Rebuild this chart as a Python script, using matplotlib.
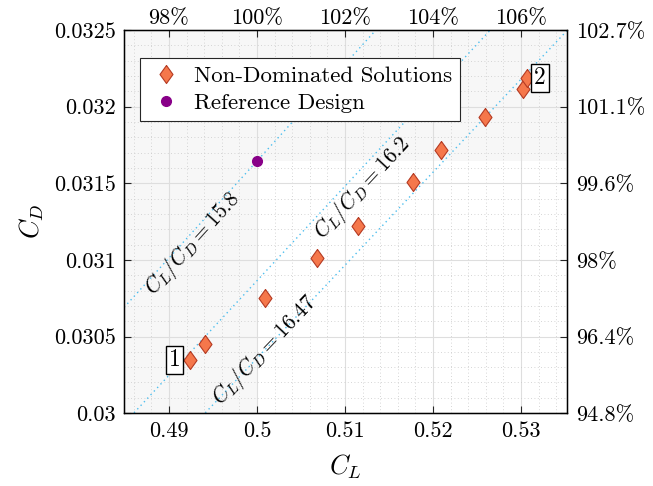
import matplotlib
matplotlib.use("Agg")
import matplotlib.pyplot as plt
import numpy as np
from matplotlib.ticker import MultipleLocator

plt.rcParams["font.family"] = "serif"
plt.rcParams["font.serif"] = ["cmr10"]
plt.rcParams["mathtext.fontset"] = "cm"
plt.rcParams["axes.formatter.use_mathtext"] = True

# data
cl_nd = [0.4924, 0.4941, 0.5009, 0.5068, 0.5115, 0.5177, 0.5209, 0.5259, 0.5302, 0.5307]
cd_nd = [0.030346, 0.03045, 0.030751, 0.031012, 0.031221, 0.031508, 0.031717, 0.031932, 0.032115, 0.032187]
cl_ref = 0.5
cd_ref = 0.031646

ld_ratios = [15.8, 16.2, 16.47]
ld_label_cl = [0.49207, 0.51081, 0.50091]
ld_label_off = [8.0, 14.0, 0.0]  # perpendicular offset (px) below the line

x_ticks = [0.49, 0.50, 0.51, 0.52, 0.53]
x_tick_labels = ["0.49", "0.5", "0.51", "0.52", "0.53"]
y_ticks = [0.03, 0.0305, 0.031, 0.0315, 0.032, 0.0325]
y_tick_labels = ["0.03", "0.0305", "0.031", "0.0315", "0.032", "0.0325"]
top_tick_labels = ["98%", "100%", "102%", "104%", "106%"]
right_tick_labels = ["94.8%", "96.4%", "98%", "99.6%", "101.1%", "102.7%"]

xlim = (0.4849, 0.5352)
ylim = (0.03, 0.0325)

fs_tick = 16
fs_leg = 16.5

fig = plt.figure(figsize=(6.53, 4.86), dpi=100)
ax = fig.add_axes([0.19, 0.150, 0.678, 0.788])
ax.set_xlim(*xlim)
ax.set_ylim(*ylim)

# shaded region (dominated by reference design)
shade = "#f7f7f7"
ax.axvspan(xlim[0], cl_ref, color=shade, lw=0, zorder=0)
ax.axhspan(cd_ref, ylim[1], xmin=(cl_ref - xlim[0]) / (xlim[1] - xlim[0]), xmax=1,
           color=shade, lw=0, zorder=0)

# grid
ax.set_xticks(x_ticks)
ax.set_xticklabels(x_tick_labels)
ax.set_yticks(y_ticks)
ax.set_yticklabels(y_tick_labels)
ax.xaxis.set_minor_locator(MultipleLocator(0.002))
ax.yaxis.set_minor_locator(MultipleLocator(0.0001))
ax.grid(True, which="major", color="#dedede", lw=0.8, zorder=1)
ax.grid(True, which="minor", color="#c8c8c8", lw=0.6, ls=(0, (1, 3)), zorder=1)
ax.set_axisbelow(True)

# L/D lines
cl_line = np.array(xlim)
line_col = "#4dbeee"
for k in ld_ratios:
    ax.plot(cl_line, cl_line / k, ls=(0, (1, 2.5)), color=line_col, lw=1.0, zorder=2)

# label rotation from data-to-pixel transform
fig.canvas.draw()
for k, cl, off in zip(ld_ratios, ld_label_cl, ld_label_off):
    p0 = ax.transData.transform((xlim[0], xlim[0] / k))
    p1 = ax.transData.transform((xlim[1], xlim[1] / k))
    ang = np.degrees(np.arctan2(p1[1] - p0[1], p1[0] - p0[0]))
    nx, ny = np.sin(np.radians(ang)), -np.cos(np.radians(ang))
    off_pt = off * 72 / fig.dpi
    ax.annotate(rf"$C_L/C_D = {k}$", xy=(cl, cl / k), xytext=(off_pt * nx, off_pt * ny),
                textcoords="offset points", rotation=ang, rotation_mode="anchor",
                ha="center", va="center", fontsize=15.5, zorder=3)

# markers
diamond = [(0, 1), (0.72, 0), (0, -1), (-0.72, 0), (0, 1)]
ax.plot(cl_nd, cd_nd, ls="none", marker=diamond, ms=13, mfc="#f5774b", mec="#b53a22",
        mew=0.8, label="Non-Dominated Solutions", zorder=4)
ax.plot([cl_ref], [cd_ref], ls="none", marker="o", ms=7, mfc="#880088", mec="#880088",
        label="Reference Design", zorder=4)

# numbered boxes
box = dict(boxstyle="square,pad=0.12", fc="white", ec="black", lw=1.0)
ax.annotate("1", xy=(cl_nd[0], cd_nd[0]), xytext=(-7, 0), textcoords="offset points",
            ha="right", va="center", fontsize=17, bbox=box, zorder=5)
ax.annotate("2", xy=(cl_nd[-1], cd_nd[-1]), xytext=(5, 0), textcoords="offset points",
            ha="left", va="center", fontsize=17, bbox=box, zorder=5)

ax.set_xlabel(r"$C_L$", fontsize=19, labelpad=8)
ax.set_ylabel(r"$C_D$", fontsize=19, labelpad=6)
ax.tick_params(which="both", direction="in", labelsize=fs_tick, color="#262626")
ax.tick_params(which="major", length=5, pad=6)
ax.tick_params(which="minor", length=0)
for s in ax.spines.values():
    s.set_color("#262626")
    s.set_linewidth(1.0)

# top / right secondary axes
axt = ax.twiny()
axt.set_xlim(*xlim)
axt.set_xticks(x_ticks)
axt.set_xticklabels(top_tick_labels)
axt.tick_params(direction="in", labelsize=fs_tick, length=5, pad=1.5, color="#262626")
axr = ax.twinx()
axr.set_ylim(*ylim)
axr.set_yticks(y_ticks)
axr.set_yticklabels(right_tick_labels)
axr.tick_params(direction="in", labelsize=fs_tick, length=5, pad=7, color="#262626")

leg = ax.legend(loc="upper left", bbox_to_anchor=(0.036, 0.927), borderaxespad=0,
                fontsize=fs_leg, fancybox=False, framealpha=1, facecolor="white",
                edgecolor="#262626", handletextpad=0.4, borderpad=0.35,
                labelspacing=0.3, handlelength=1.6)
leg.get_frame().set_linewidth(0.8)
leg.set_zorder(10)

fig.savefig("out.png", dpi=100)
